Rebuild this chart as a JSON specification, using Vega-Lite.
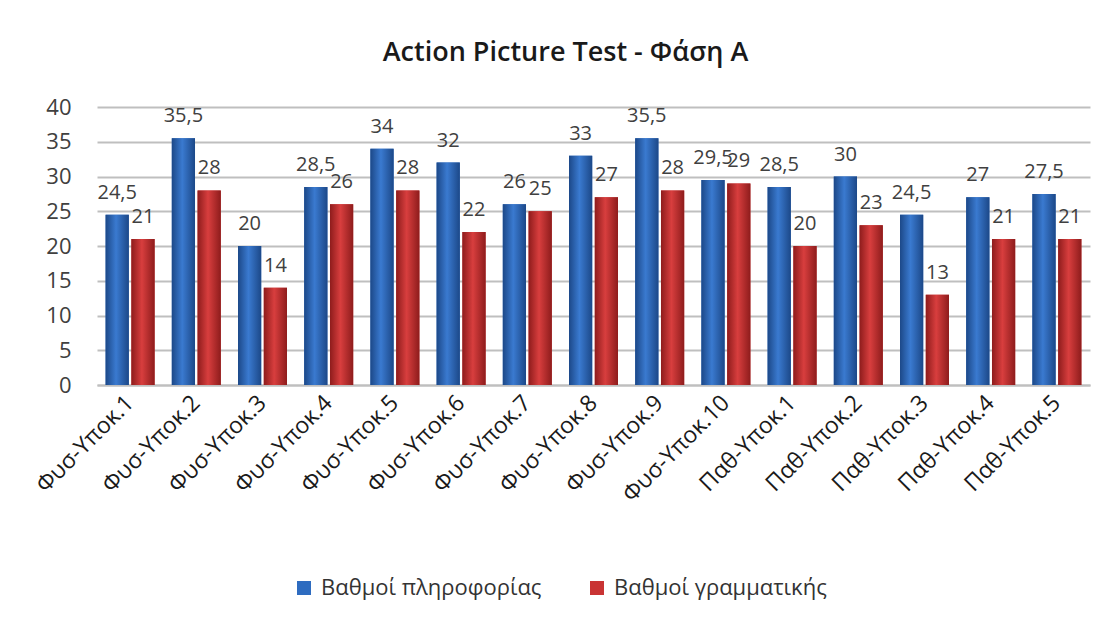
{
  "$schema": "https://vega.github.io/schema/vega-lite/v6.json",
  "width": 993,
  "height": 278,
  "autosize": {"type": "none"},
  "padding": {"left": 97, "top": 107, "right": 16, "bottom": 233},
  "background": "white",
  "config": {
    "locale": {"number": {"decimal": ",", "thousands": ".", "grouping": [3], "currency": ["", " €"]}},
    "view": {"stroke": null},
    "font": "Open Sans"
  },
  "title": {
    "text": "Action Picture Test - Φάση Α",
    "fontSize": 27,
    "fontWeight": 600,
    "color": "#1a1a1a",
    "anchor": "middle",
    "dx": -28,
    "offset": 29
  },
  "data": {
    "values": [
      {"cat": "Φυσ-Υποκ.1", "series": "Βαθμοί πληροφορίας", "v": 24.5},
      {"cat": "Φυσ-Υποκ.1", "series": "Βαθμοί γραμματικής", "v": 21},
      {"cat": "Φυσ-Υποκ.2", "series": "Βαθμοί πληροφορίας", "v": 35.5},
      {"cat": "Φυσ-Υποκ.2", "series": "Βαθμοί γραμματικής", "v": 28},
      {"cat": "Φυσ-Υποκ.3", "series": "Βαθμοί πληροφορίας", "v": 20},
      {"cat": "Φυσ-Υποκ.3", "series": "Βαθμοί γραμματικής", "v": 14},
      {"cat": "Φυσ-Υποκ.4", "series": "Βαθμοί πληροφορίας", "v": 28.5},
      {"cat": "Φυσ-Υποκ.4", "series": "Βαθμοί γραμματικής", "v": 26},
      {"cat": "Φυσ-Υποκ.5", "series": "Βαθμοί πληροφορίας", "v": 34},
      {"cat": "Φυσ-Υποκ.5", "series": "Βαθμοί γραμματικής", "v": 28},
      {"cat": "Φυσ-Υποκ.6", "series": "Βαθμοί πληροφορίας", "v": 32},
      {"cat": "Φυσ-Υποκ.6", "series": "Βαθμοί γραμματικής", "v": 22},
      {"cat": "Φυσ-Υποκ.7", "series": "Βαθμοί πληροφορίας", "v": 26},
      {"cat": "Φυσ-Υποκ.7", "series": "Βαθμοί γραμματικής", "v": 25},
      {"cat": "Φυσ-Υποκ.8", "series": "Βαθμοί πληροφορίας", "v": 33},
      {"cat": "Φυσ-Υποκ.8", "series": "Βαθμοί γραμματικής", "v": 27},
      {"cat": "Φυσ-Υποκ.9", "series": "Βαθμοί πληροφορίας", "v": 35.5},
      {"cat": "Φυσ-Υποκ.9", "series": "Βαθμοί γραμματικής", "v": 28},
      {"cat": "Φυσ-Υποκ.10", "series": "Βαθμοί πληροφορίας", "v": 29.5},
      {"cat": "Φυσ-Υποκ.10", "series": "Βαθμοί γραμματικής", "v": 29},
      {"cat": "Παθ-Υποκ.1", "series": "Βαθμοί πληροφορίας", "v": 28.5},
      {"cat": "Παθ-Υποκ.1", "series": "Βαθμοί γραμματικής", "v": 20},
      {"cat": "Παθ-Υποκ.2", "series": "Βαθμοί πληροφορίας", "v": 30},
      {"cat": "Παθ-Υποκ.2", "series": "Βαθμοί γραμματικής", "v": 23},
      {"cat": "Παθ-Υποκ.3", "series": "Βαθμοί πληροφορίας", "v": 24.5},
      {"cat": "Παθ-Υποκ.3", "series": "Βαθμοί γραμματικής", "v": 13},
      {"cat": "Παθ-Υποκ.4", "series": "Βαθμοί πληροφορίας", "v": 27},
      {"cat": "Παθ-Υποκ.4", "series": "Βαθμοί γραμματικής", "v": 21},
      {"cat": "Παθ-Υποκ.5", "series": "Βαθμοί πληροφορίας", "v": 27.5},
      {"cat": "Παθ-Υποκ.5", "series": "Βαθμοί γραμματικής", "v": 21}
    ]
  },
  "encoding": {
    "x": {
      "field": "cat",
      "type": "nominal",
      "sort": null,
      "scale": {"paddingInner": 0.26, "paddingOuter": 0.13},
      "axis": {
        "title": null,
        "labelAngle": -45,
        "labelAlign": "right",
        "labelBaseline": "middle",
        "labelFontSize": 23,
        "labelColor": "#1a1a1a",
        "labelPadding": 14,
        "labelLimit": 300,
        "ticks": false,
        "domainColor": "#bfbfbf",
        "domainWidth": 2
      }
    },
    "xOffset": {
      "field": "series",
      "type": "nominal",
      "sort": ["Βαθμοί πληροφορίας", "Βαθμοί γραμματικής"],
      "scale": {"paddingInner": 0.1}
    },
    "y": {
      "field": "v",
      "type": "quantitative",
      "scale": {"domain": [0, 40]},
      "axis": {
        "title": null,
        "values": [0, 5, 10, 15, 20, 25, 30, 35, 40],
        "labelFontSize": 22,
        "labelColor": "#404040",
        "labelPadding": 26,
        "ticks": false,
        "domain": false,
        "gridColor": "#bfbfbf",
        "gridWidth": 2
      }
    }
  },
  "layer": [
    {
      "mark": {"type": "bar"},
      "encoding": {
        "color": {
          "field": "series",
          "type": "nominal",
          "sort": ["Βαθμοί πληροφορίας", "Βαθμοί γραμματικής"],
          "scale": {"domain": ["Βαθμοί πληροφορίας", "Βαθμοί γραμματικής"], "range": ["#2e6cc0", "#c93434"]},
          "legend": {
            "title": null,
            "orient": "none",
            "direction": "horizontal",
            "legendX": 196,
            "legendY": 470,
            "symbolType": "square",
            "symbolSize": 196,
            "symbolStrokeWidth": 0,
            "labelFontSize": 22,
            "labelColor": "#333333",
            "labelLimit": 400,
            "columnPadding": 44,
            "labelOffset": 6
          }
        }
      }
    },
    {
      "mark": {"type": "bar"},
      "encoding": {
        "fill": {
          "condition": {
            "test": "datum.series === 'Βαθμοί πληροφορίας'",
            "value": {"gradient": "linear", "x1": 0, "x2": 1, "y1": 0, "y2": 0, "stops": [{"offset": 0, "color": "#1c4888"}, {"offset": 0.45, "color": "#3a7ad0"}, {"offset": 1, "color": "#1c4888"}]}
          },
          "value": {"gradient": "linear", "x1": 0, "x2": 1, "y1": 0, "y2": 0, "stops": [{"offset": 0, "color": "#8e1c1c"}, {"offset": 0.45, "color": "#d83e3e"}, {"offset": 1, "color": "#8e1c1c"}]}
        }
      }
    },
    {
      "mark": {"type": "text", "baseline": "bottom", "dy": -12, "fontSize": 20, "color": "#404040"},
      "encoding": {
        "text": {"field": "v", "type": "quantitative", "format": "~r"}
      }
    }
  ]
}
